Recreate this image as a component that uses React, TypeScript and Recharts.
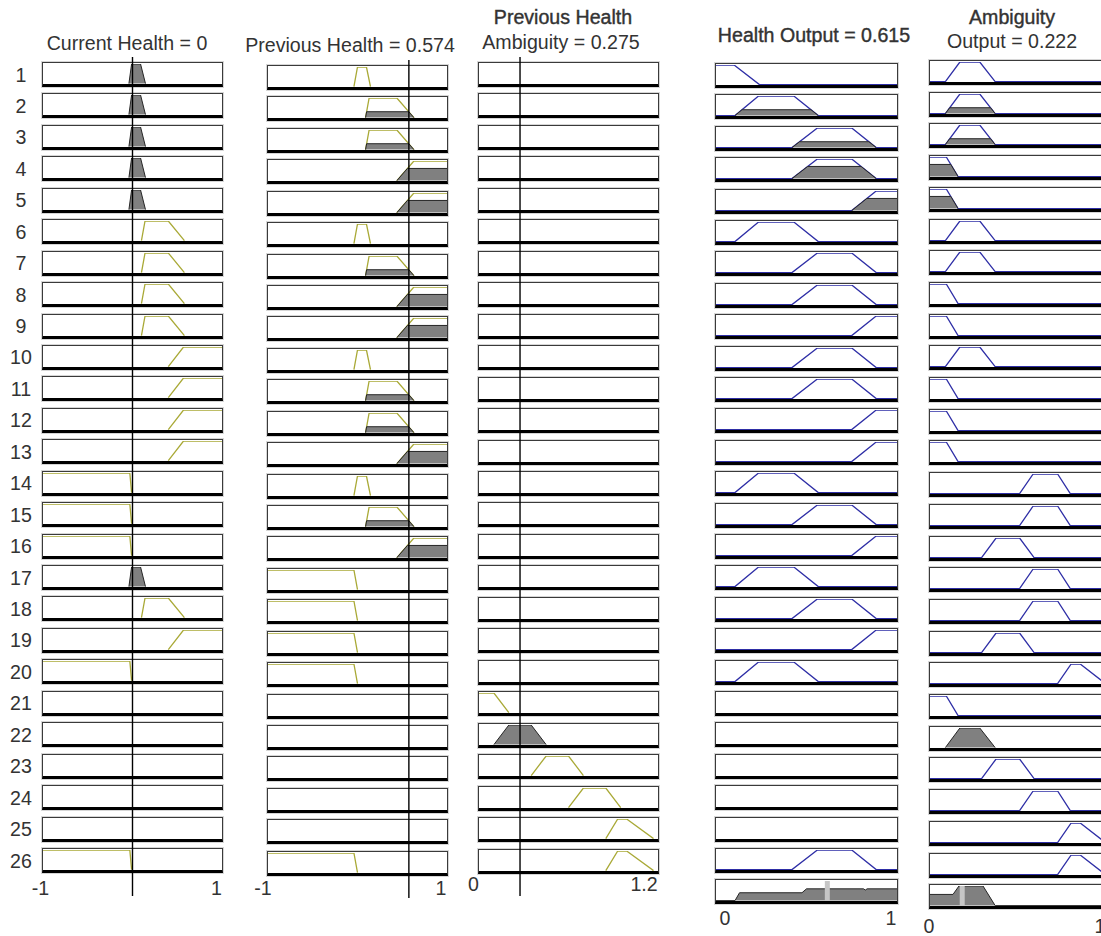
import React from 'react';
import { ComposedChart, Line, Area, XAxis, YAxis, ReferenceLine } from 'recharts';

// ---- values read from the rule viewer ----
const ROW_LABELS = ['1', '2', '3', '4', '5', '6', '7', '8', '9', '10', '11', '12', '13', '14', '15', '16', '17', '18', '19', '20', '21', '22', '23', '24', '25', '26'];

const currentHealth = 0;
const previousHealth = 0.574;
const prevHealthAmbiguity = 0.275;
const healthOutputMarker = 0.615;
const ambiguityOutputMarker = 0.178;

// membership functions [a, b, c, d] (trapezoids)
const currentHealthMF: Record<string, number[]> = {
  neg: [-1, -1, -0.03, -0.01],
  zero: [-0.04, -0.01, 0.09, 0.145],
  pos: [0.1, 0.14, 0.4, 0.58],
  high: [0.4, 0.57, 1, 1],
};
const previousHealthMF: Record<string, number[]> = {
  neg: [-1, -1, -0.04, 0],
  zero: [-0.04, 0, 0.1, 0.145],
  pos: [0.09, 0.13, 0.44, 0.63],
  high: [0.44, 0.63, 1, 1],
};
const ambiguityInMF: Record<string, number[]> = {
  low: [0, 0, 0.1, 0.2],
  med: [0.1, 0.2, 0.35, 0.45],
  midHigh: [0.35, 0.45, 0.6, 0.7],
  high: [0.6, 0.7, 0.85, 0.95],
  veryHigh: [0.85, 0.93, 0.99, 1.17],
};
const healthOutMF: Record<string, number[]> = {
  low: [0, 0, 0.1, 0.24],
  medLow: [0.105, 0.235, 0.43, 0.565],
  medHigh: [0.42, 0.56, 0.75, 0.885],
  high: [0.75, 0.885, 1, 1],
};
const ambiguityOutMF: Record<string, number[]> = {
  low: [0, 0, 0.09, 0.155],
  med: [0.085, 0.165, 0.275, 0.36],
  mid: [0.285, 0.365, 0.495, 0.575],
  high: [0.495, 0.57, 0.705, 0.775],
  veryHigh: [0.705, 0.78, 0.83, 0.97],
};

// rule table, one entry per row ('' = not used)
const currentHealthRules = ['zero', 'zero', 'zero', 'zero', 'zero', 'pos', 'pos', 'pos', 'pos', 'high', 'high', 'high', 'high', 'neg', 'neg', 'neg', 'zero', 'pos', 'high', 'neg', '', '', '', '', '', 'neg'];
const previousHealthRules = ['zero', 'pos', 'pos', 'high', 'high', 'zero', 'pos', 'high', 'high', 'zero', 'pos', 'pos', 'high', 'zero', 'pos', 'high', 'neg', 'neg', 'neg', 'neg', '', '', '', '', '', 'neg'];
const ambiguityInRules = ['', '', '', '', '', '', '', '', '', '', '', '', '', '', '', '', '', '', '', '', 'low', 'med', 'midHigh', 'high', 'veryHigh', 'veryHigh'];
const healthOutRules = ['low', 'medLow', 'medHigh', 'medHigh', 'high', 'medLow', 'medHigh', 'medHigh', 'high', 'medHigh', 'medHigh', 'high', 'high', 'medLow', 'medHigh', 'high', 'medLow', 'medHigh', 'high', 'medLow', '', '', '', '', '', 'medHigh'];
const ambiguityOutRules = ['med', 'med', 'med', 'low', 'low', 'med', 'med', 'low', 'low', 'med', 'low', 'low', 'low', 'high', 'high', 'mid', 'high', 'high', 'mid', 'veryHigh', 'low', 'med', 'mid', 'high', 'veryHigh', 'veryHigh'];

// membership degree of the current inputs, and rule firing strengths
const currentHealthDegree: Record<string, number> = { zero: 1 };
const previousHealthDegree: Record<string, number> = { pos: 0.3, high: 0.62 };
const ambiguityInDegree: Record<string, number> = { med: 1 };
const ruleFiring = [0, 0.3, 0.3, 0.62, 0.62, 0, 0, 0, 0, 0, 0, 0, 0, 0, 0, 0, 0, 0, 0, 0, 0, 1, 0, 0, 0, 0];

// aggregated outputs (bottom row)
const healthAggX = [0, 0.105, 0.13, 0.475, 0.5, 0.815, 0.825, 0.835, 1];
const healthAggY = [0, 0, 0.4, 0.4, 0.6, 0.6, 0.54, 0.6, 0.6];
const ambiguityAggX = [0, 0.127, 0.16, 0.293, 0.36, 1];
const ambiguityAggY = [0.57, 0.57, 1, 1, 0, 0];

// ---- styling ----
const FONT = '"Liberation Sans", Arial, Helvetica, sans-serif';
const TEXT = '#333';
const YELLOW = '#a9a936';
const BLUE = '#2e2ea6';
const GREY = '#808080';
const FS = 19.6;
const AXIS_H = 24;
const PAD = 24;

type Pt = { x: number; y: number };

function mfLine(p: number[], domain: number[], withBase: boolean): Pt[] {
  const [a, b, c, d] = p;
  const pts: Pt[] = [];
  if (withBase && a > domain[0]) pts.push({ x: domain[0], y: 0 });
  if (a === b) pts.push({ x: a, y: 1 });
  else {
    pts.push({ x: a, y: 0 });
    pts.push({ x: b, y: 1 });
  }
  if (c === d) pts.push({ x: d, y: 1 });
  else {
    pts.push({ x: c, y: 1 });
    pts.push({ x: d, y: 0 });
  }
  if (withBase && d < domain[1]) pts.push({ x: domain[1], y: 0 });
  return pts;
}

function mfFill(p: number[], h: number): Pt[] {
  const [a, b, c, d] = p;
  const pts: Pt[] = [];
  if (a === b) pts.push({ x: a, y: h });
  else {
    pts.push({ x: a, y: 0 });
    pts.push({ x: a + (b - a) * h, y: h });
  }
  if (c === d) pts.push({ x: d, y: h });
  else {
    pts.push({ x: d - (d - c) * h, y: h });
    pts.push({ x: d, y: 0 });
  }
  return pts;
}

interface ColumnSpec {
  left: number;
  width: number;
  top0: number;
  pitch: number;
  domain: number[];
  color: string;
  mfs: Record<string, number[]>;
  rules: string[];
  degree: (name: string, row: number) => number;
  output: boolean;
  agg?: Pt[];
  marker?: number;
}

const columns: ColumnSpec[] = [
  { left: 42, width: 181, top0: 62, pitch: 31.44, domain: [-1, 1], color: YELLOW, mfs: currentHealthMF, rules: currentHealthRules, degree: (n) => currentHealthDegree[n] ?? 0, output: false },
  { left: 267, width: 181, top0: 65, pitch: 31.43, domain: [-1, 1], color: YELLOW, mfs: previousHealthMF, rules: previousHealthRules, degree: (n) => previousHealthDegree[n] ?? 0, output: false },
  { left: 478, width: 181, top0: 62, pitch: 31.46, domain: [0, 1.2], color: YELLOW, mfs: ambiguityInMF, rules: ambiguityInRules, degree: (n) => ambiguityInDegree[n] ?? 0, output: false },
  {
    left: 715, width: 183, top0: 63, pitch: 31.4, domain: [0, 1], color: BLUE, mfs: healthOutMF, rules: healthOutRules,
    degree: (_n, r) => ruleFiring[r], output: true,
    agg: healthAggX.map((x, i) => ({ x, y: healthAggY[i] })), marker: healthOutputMarker,
  },
  {
    left: 929, width: 183, top0: 60, pitch: 31.7, domain: [0, 1], color: BLUE, mfs: ambiguityOutMF, rules: ambiguityOutRules,
    degree: (_n, r) => ruleFiring[r], output: true,
    agg: ambiguityAggX.map((x, i) => ({ x, y: ambiguityAggY[i] })), marker: ambiguityOutputMarker,
  },
];

const CELL_H = 25;

function Cell({ left, top, width, domain, line, fill, color, marker }: {
  left: number; top: number; width: number; domain: number[];
  line?: Pt[]; fill?: Pt[]; color: string; marker?: number;
}) {
  const w = width - 2;
  const h = CELL_H - 4;
  return (
    <div
      style={{
        position: 'absolute', left, top, width: w, height: h,
        border: '1px solid #3a3a3a', borderBottom: '3px solid #000',
        boxShadow: '0 0 0 1px #d6d6d6', background: '#fff',
      }}
    >
      <ComposedChart width={w} height={h} margin={{ top: 1, right: 0, bottom: 0, left: 0 }}>
        <XAxis type="number" dataKey="x" domain={domain} allowDataOverflow hide />
        <YAxis type="number" domain={[-0.02, 1]} allowDataOverflow hide />
        {line && (
          <Line data={line} dataKey="y" type="linear" stroke={color} strokeWidth={1.3}
            dot={false} activeDot={false} isAnimationActive={false} />
        )}
        {fill && (
          <Area data={fill} dataKey="y" type="linear" baseValue={0} stroke="#262626" strokeWidth={1}
            fill={GREY} fillOpacity={1} dot={false} activeDot={false} isAnimationActive={false} zIndex={450} />
        )}
        {marker != null && <ReferenceLine x={marker} stroke="#c6c6c6" strokeWidth={5} zIndex={900} />}
      </ComposedChart>
    </div>
  );
}

// full-height input marker line plus the range labels under each column
function Overlay({ left, top, width, lineLen, domain, ticks, labels, dx, tickY, refX }: {
  left: number; top: number; width: number; lineLen: number; domain: number[];
  ticks: number[]; labels: string[]; dx: number[]; tickY: number; refX?: number;
}) {
  const pts = [{ x: domain[0], y: 0 }, { x: domain[1], y: 0 }];
  return (
    <div style={{ position: 'absolute', left: left - PAD, top, pointerEvents: 'none', zIndex: 5 }}>
      <ComposedChart width={width + 2 * PAD} height={lineLen + AXIS_H}
        margin={{ top: 0, right: PAD, bottom: 0, left: PAD }}>
        <XAxis
          type="number" dataKey="x" domain={domain} ticks={ticks} interval={0} height={AXIS_H}
          axisLine={false} tickLine={false}
          tick={(p: any) => {
            const i = ticks.indexOf(p.payload.value);
            return (
              <text x={p.x + (dx[i] ?? 0)} y={tickY} textAnchor="middle" dominantBaseline="central"
                fontSize={FS} fontFamily={FONT} fill={TEXT}>
                {labels[i]}
              </text>
            );
          }}
        />
        <YAxis type="number" domain={[0, 1]} hide />
        <Line data={pts} dataKey="y" stroke="none" dot={false} activeDot={false} isAnimationActive={false} />
        {refX != null && <ReferenceLine x={refX} stroke="#000" strokeWidth={1.4} />}
      </ComposedChart>
    </div>
  );
}

function Title({ text, cx, cy, heavy }: { text: string; cx: number; cy: number; heavy?: boolean }) {
  return (
    <div
      style={{
        position: 'absolute', left: cx - 200, top: cy - 12, width: 400, height: 24, lineHeight: '24px',
        textAlign: 'center', fontSize: FS, whiteSpace: 'nowrap', color: TEXT,
        WebkitTextStroke: heavy ? '0.4px #333' : undefined,
      }}
    >
      {text}
    </div>
  );
}

export default function App() {
  const cells: React.ReactNode[] = [];
  columns.forEach((col, ci) => {
    col.rules.forEach((name, r) => {
      const top = col.top0 + r * col.pitch;
      let line: Pt[] | undefined;
      let fill: Pt[] | undefined;
      if (name) {
        const p = col.mfs[name];
        const deg = col.degree(name, r);
        if (deg < 1) line = mfLine(p, col.domain, col.output);
        if (deg > 0) fill = mfFill(p, deg);
      }
      cells.push(
        <Cell key={`${ci}-${r}`} left={col.left} top={top} width={col.width} domain={col.domain}
          line={line} fill={fill} color={col.color} />
      );
    });
    if (col.agg) {
      cells.push(
        <Cell key={`${ci}-agg`} left={col.left} top={col.top0 + 26 * col.pitch} width={col.width}
          domain={col.domain} fill={col.agg} color={col.color} marker={col.marker} />
      );
    }
  });

  return (
    <div
      style={{
        position: 'fixed', left: 0, top: 0, width: 1101, height: 936, overflow: 'hidden',
        background: '#fff', fontFamily: FONT, color: TEXT,
      }}
    >
      <Title text="Current Health = 0" cx={127} cy={43} />
      <Title text="Previous Health = 0.574" cx={350} cy={45} />
      <Title text="Previous Health" cx={563} cy={17} heavy />
      <Title text="Ambiguity = 0.275" cx={561} cy={42} />
      <Title text="Health Output = 0.615" cx={814} cy={35} heavy />
      <Title text="Ambiguity" cx={1012} cy={17} heavy />
      <Title text="Output = 0.222" cx={1012} cy={41} />

      {ROW_LABELS.map((lab, r) => (
        <div
          key={lab}
          style={{
            position: 'absolute', left: 0, width: 42, top: 62 + r * 31.44 + 12.5 - 12, height: 24,
            lineHeight: '24px', textAlign: 'center', fontSize: FS, color: TEXT,
          }}
        >
          {lab}
        </div>
      ))}

      {cells}

      <Overlay left={43} top={57} width={179} lineLen={839} domain={[-1, 1]} ticks={[-1, 1]}
        labels={['-1', '1']} dx={[-2.5, -5.5]} tickY={831} refX={currentHealth} />
      <Overlay left={268} top={60} width={179} lineLen={838} domain={[-1, 1]} ticks={[-1, 1]}
        labels={['-1', '1']} dx={[-5, -6]} tickY={828} refX={previousHealth} />
      <Overlay left={479} top={57} width={179} lineLen={839} domain={[0, 1.2]} ticks={[0, 1.2]}
        labels={['0', '1.2']} dx={[-5.5, -14]} tickY={827} refX={prevHealthAmbiguity} />
      <Overlay left={716} top={880} width={181} lineLen={40} domain={[0, 1]} ticks={[0, 1]}
        labels={['0', '1']} dx={[9, -6]} tickY={38} />
      <Overlay left={930} top={880} width={181} lineLen={40} domain={[0, 1]} ticks={[0, 1]}
        labels={['0', '1']} dx={[-1, -11]} tickY={46} />
    </div>
  );
}
